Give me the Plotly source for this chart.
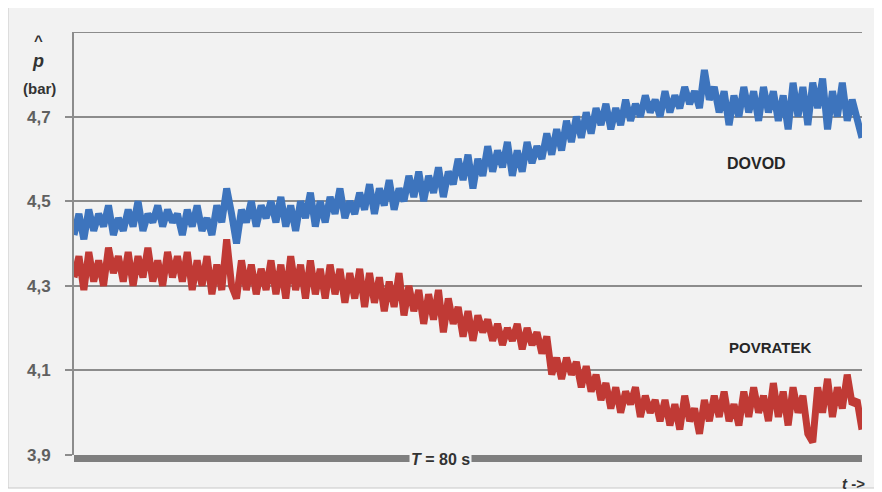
import plotly.graph_objects as go

# time axis: 0 .. 80 s, step 0.5 s
t_step = 0.5
dovod = [
    4.42, 4.47, 4.41, 4.48, 4.43, 4.47, 4.44, 4.49, 4.42, 4.46,
    4.43, 4.48, 4.44, 4.50, 4.43, 4.47, 4.45, 4.49, 4.44, 4.48,
    4.45, 4.47, 4.42, 4.48, 4.44, 4.49, 4.43, 4.46, 4.42, 4.49,
    4.45, 4.53, 4.47, 4.40, 4.48, 4.45, 4.50, 4.44, 4.49, 4.46,
    4.50, 4.45, 4.51, 4.44, 4.49, 4.43, 4.50, 4.46, 4.52, 4.44,
    4.50, 4.45, 4.51, 4.47, 4.53, 4.46, 4.50, 4.47, 4.52, 4.48,
    4.54, 4.47, 4.53, 4.49, 4.55, 4.48, 4.53, 4.50, 4.56, 4.51,
    4.57, 4.50, 4.56, 4.52, 4.58, 4.51, 4.57, 4.54, 4.60, 4.55,
    4.61, 4.53, 4.60, 4.56, 4.63, 4.57, 4.62, 4.58, 4.64, 4.56,
    4.62, 4.57, 4.64, 4.59, 4.63, 4.60, 4.66, 4.61, 4.67, 4.62,
    4.69, 4.64, 4.70, 4.65, 4.71, 4.66, 4.72, 4.68, 4.73, 4.67,
    4.72, 4.68, 4.74, 4.69, 4.73, 4.70, 4.75, 4.71, 4.74, 4.70,
    4.76, 4.71, 4.75, 4.72, 4.77, 4.73, 4.76, 4.72, 4.81, 4.74,
    4.77, 4.71, 4.76, 4.68, 4.75, 4.70, 4.77, 4.71, 4.76, 4.69,
    4.77, 4.71, 4.76, 4.69, 4.75, 4.67, 4.78, 4.70, 4.77, 4.68,
    4.78, 4.72, 4.79, 4.67, 4.76, 4.70, 4.78, 4.69, 4.74, 4.70,
    4.65,
]
povratek = [
    4.32, 4.37, 4.29, 4.38, 4.31, 4.36, 4.30, 4.39, 4.33, 4.37,
    4.31, 4.38, 4.30, 4.37, 4.32, 4.39, 4.31, 4.36, 4.30, 4.38,
    4.32, 4.37, 4.31, 4.38, 4.29, 4.36, 4.30, 4.37, 4.28, 4.35,
    4.29, 4.41, 4.30, 4.27, 4.36, 4.29, 4.35, 4.28, 4.34, 4.29,
    4.36, 4.28, 4.35, 4.27, 4.37, 4.29, 4.35, 4.27, 4.36, 4.28,
    4.34, 4.27, 4.35, 4.28, 4.34, 4.26, 4.33, 4.27, 4.34, 4.25,
    4.33, 4.26, 4.32, 4.24, 4.31, 4.25, 4.33, 4.23, 4.30, 4.24,
    4.29, 4.21, 4.28, 4.22, 4.29, 4.19, 4.27, 4.21, 4.25, 4.18,
    4.24, 4.17, 4.23, 4.19, 4.22, 4.17, 4.21, 4.16, 4.20, 4.17,
    4.21, 4.15, 4.20, 4.16, 4.19, 4.14, 4.18, 4.09, 4.13, 4.08,
    4.13, 4.09, 4.12, 4.06, 4.11, 4.05, 4.09, 4.03, 4.07, 4.01,
    4.06, 4.00, 4.05, 4.02, 4.06, 3.99, 4.04, 4.00, 4.03, 3.98,
    4.03, 3.97, 4.02, 3.96, 4.04, 3.98, 4.01, 3.95, 4.03, 3.98,
    4.04, 3.99, 4.05, 3.98, 4.02, 3.97, 4.05, 3.99, 4.06, 4.00,
    4.04, 3.98, 4.07, 3.99, 4.05, 3.97, 4.06, 4.00, 4.04, 3.95,
    3.93, 4.06, 4.00, 4.08, 3.99, 4.06, 4.01, 4.09, 4.02, 4.03,
    3.96,
]
time = [i * t_step for i in range(len(dovod))]

y_ticks = [3.9, 4.1, 4.3, 4.5, 4.7]
y_ticktext = ["<b>3,9</b>", "<b>4,1</b>", "<b>4,3</b>", "<b>4,5</b>", "<b>4,7</b>"]
y_top = 4.9
period_label = "<b><i>T</i> = 80 s</b>"
series_names = ["DOVOD", "POVRATEK"]

BG = "#f2f2f2"
GRID = "#8c8c8c"
FONT = "Liberation Sans, Arial, sans-serif"

fig = go.Figure()
fig.add_trace(go.Scatter(x=time, y=dovod, mode="lines", name=series_names[0],
                         line=dict(color="#3d74bd", width=7)))
fig.add_trace(go.Scatter(x=time, y=povratek, mode="lines", name=series_names[1],
                         line=dict(color="#c03a35", width=7)))

# page body has an 8px margin, so the figure is drawn 8px right/down
fig.update_layout(
    width=874, height=484,
    margin=dict(l=66, r=20, t=24, b=37),
    paper_bgcolor="white",
    plot_bgcolor=BG,
    showlegend=False,
    font=dict(family=FONT),
)
fig.update_xaxes(range=[0, 80], showgrid=False, showticklabels=False,
                 zeroline=False, showline=False, ticks="")
fig.update_yaxes(range=[3.9, y_top], tickvals=y_ticks, ticktext=y_ticktext,
                 showgrid=True, gridcolor=GRID, gridwidth=2, zeroline=False,
                 showline=True, linecolor=GRID, linewidth=2,
                 ticks="outside", ticklen=7, tickcolor=GRID, tickwidth=2,
                 ticklabelstandoff=11,
                 tickfont=dict(size=17, color="#606060", family=FONT))

shapes = [
    # outer frame
    dict(type="rect", xref="paper", yref="paper", x0=-66/788, x1=805/788,
         y0=-33/423, y1=1 + 25/423, fillcolor=BG, line=dict(color="#c8c8c8", width=1),
         layer="below"),
    # top gridline
    dict(type="line", xref="paper", yref="y", x0=0, x1=1, y0=y_top, y1=y_top,
         line=dict(color=GRID, width=2)),
    # period bar
    dict(type="rect", xref="paper", yref="paper", x0=0, x1=1, y0=-7/423, y1=0,
         fillcolor="#7f7f7f", line=dict(width=0)),
]
fig.update_layout(shapes=shapes)

annotations = [
    dict(x=37.2, y=3.9, xref="x", yref="y", text=period_label, showarrow=False,
         yshift=-4, bgcolor=BG, borderpad=1,
         font=dict(size=16, color="#333333", family=FONT)),
    dict(x=69.3, y=4.59, xref="x", yref="y", text="<b>" + series_names[0] + "</b>",
         showarrow=False, font=dict(size=16, color="#262626", family=FONT)),
    dict(x=70.7, y=4.155, xref="x", yref="y", text="<b>" + series_names[1] + "</b>",
         showarrow=False, font=dict(size=15, color="#262626", family=FONT)),
    dict(x=-36/788, y=1 + (32-40)/423, xref="paper", yref="paper", text="<b>^</b>",
         xanchor="center", yanchor="middle",
         showarrow=False, font=dict(size=15, color="#333333", family=FONT)),
    dict(x=-36/788, y=1 + (32-61)/423, xref="paper", yref="paper", text="<b><i>p</i></b>",
         xanchor="center", yanchor="middle",
         showarrow=False, font=dict(size=18, color="#333333", family=FONT)),
    dict(x=-35/788, y=1 + (32-89)/423, xref="paper", yref="paper", text="<b>(bar)</b>",
         xanchor="center", yanchor="middle",
         showarrow=False, font=dict(size=15, color="#333333", family=FONT)),
    dict(x=(867-74)/788, y=-(483-455)/423, xref="paper", yref="paper", text="<b><i>t</i> -></b>",
         xanchor="right", yanchor="middle",
         showarrow=False, font=dict(size=15, color="#333333", family=FONT)),
]
fig.update_layout(annotations=annotations)

fig.write_html("out.html")
